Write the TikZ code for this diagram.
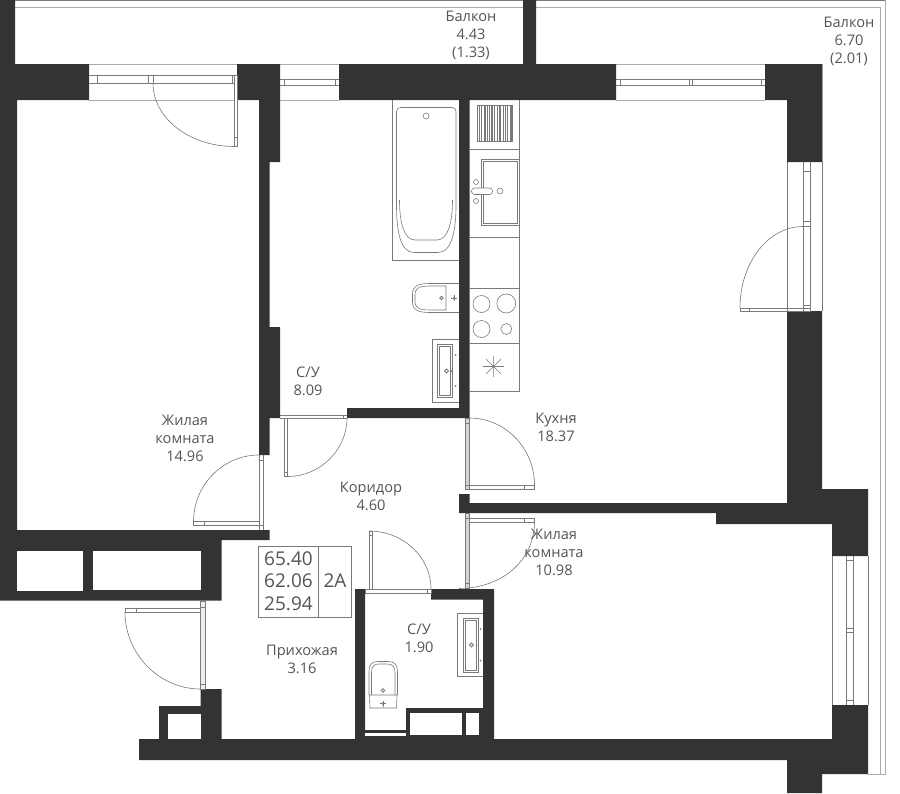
\documentclass[tikz,border=0pt]{standalone}
\usepackage{fontspec}
\setmainfont{Open Sans}
\definecolor{wallc}{HTML}{333333}
\definecolor{linec}{HTML}{7A7A7A}
\definecolor{lightc}{HTML}{ABABAB}
\definecolor{textc}{HTML}{555555}
\definecolor{framec}{HTML}{D4D4D4}
\tikzset{
  wallshape/.style={fill=wallc,draw=none},
  thin line/.style={draw=linec,line width=0.6pt},
  pale line/.style={draw=lightc,line width=0.9pt},
  fixture/.style={draw=linec,line width=0.6pt,fill=white},
  roomlabel/.style={align=center,text=textc,inner sep=0pt,font=\fontsize{14.6}{18}\selectfont},
  boxlabel/.style={text=textc,inner sep=0pt,font=\fontsize{19}{22}\selectfont},
}
\begin{document}
\begin{tikzpicture}[x=1pt,y=-1pt]
\useasboundingbox (0,0) rectangle (900,793);
\fill[white] (0,0) rectangle (900,793);

% balcony railing
\draw[pale line] (15,7) -- (523,7);
\draw[draw=linec,line width=1pt] (15,0.5) -- (523,0.5);
\draw[pale line] (536,7) -- (880,7) -- (880,774);
\draw[draw=linec,line width=1pt] (536,0.5) -- (885.5,0.5);
\draw[pale line] (885.5,0) -- (885.5,774) -- (868,774);
\draw[pale line] (15,64) -- (523,64);
\draw[pale line] (536,64) -- (822,64) -- (822,162);

% walls
\fill[wallshape] (0,0) -- (15,0) -- (15,64) -- (89,64) -- (89,100) -- (17,100) -- (17,530)
  -- (269.5,530) -- (269.5,540) -- (221.5,540) -- (221.5,600.5) -- (200.5,600.5) -- (0,600.5) -- cycle;
\fill[wallshape] (237,64) -- (280,64) -- (280,162) -- (269.5,162) -- (269.5,327) -- (280,327) -- (280,418)
  -- (269.5,418) -- (269.5,455) -- (259,455) -- (259,100) -- (237,100) -- cycle;
\fill[wallshape] (339,64) -- (523,64) -- (523,0) -- (536,0) -- (536,64) -- (616,64) -- (616,100)
  -- (469.5,100) -- (469.5,418) -- (347,418) -- (347,408) -- (459,408) -- (459,100) -- (339,100) -- cycle;
\fill[wallshape] (765,64) -- (822,64) -- (822,162) -- (787,162) -- (787,100) -- (765,100) -- cycle;
\fill[wallshape] (787,311) -- (822,311) -- (822,489) -- (868,489) -- (868,556) -- (832,556) -- (832,524)
  -- (716,524) -- (716,513) -- (469.5,513) -- (459,513) -- (459,494) -- (469.5,494) -- (469.5,503) -- (787,503) -- cycle;
\fill[wallshape] (832,705) -- (868,705) -- (868,774) -- (822,774) -- (822,793) -- (787,793) -- (787,760)
  -- (139,760) -- (139,739) -- (159,739) -- (159,706) -- (200.5,706) -- (200.5,689) -- (221.5,689) -- (221.5,739)
  -- (355,739) -- (355,589) -- (365,589) -- (365,739) -- (483,739) -- (483,599.5) -- (431,599.5) -- (431,589)
  -- (494,589) -- (494,739) -- (832,739) -- cycle;
\fill[white] (168,714) rectangle (200.5,739);
\fill[wallshape] (406,708) rectangle (483,739);
\fill[wallshape] (365,730) rectangle (406,739);
\fill[white] (17,551) rectangle (83,591);
\fill[white] (93,551) rectangle (200.5,590);
\fill[white] (410,713) rectangle (462,735);
\fill[white] (466,713) rectangle (479,735);
\fill[white] (365,732.5) rectangle (406,735.5);

% window 1 with door
\draw[pale line] (89,64) -- (237,64) (89,100) -- (237,100);
\draw[thin line] (89,75.5) -- (237,75.5) (89,83) -- (153,83) (153,83) -- (237,83);
\draw[thin line] (97.5,75.5) -- (97.5,83) (148,75.5) -- (148,83) (153,75.5) -- (153,83) (232,75.5) -- (232,83);
\draw[fixture] (234.5,75.5) rectangle (237.5,146.5);
\draw[thin line] (234.5,137) -- (237.5,137);
\draw[thin line] (153,83) .. controls (153,118) and (189,146.5) .. (234.5,146.5);

% window 2
\draw[pale line] (280,64) -- (339,64) (280,100) -- (339,100);
\draw[thin line] (280,79) -- (339,79) (280,85.5) -- (339,85.5) (284.5,79) -- (284.5,85.5) (335,79) -- (335,85.5);

% window 3
\draw[pale line] (616,64) -- (765,64) (616,100) -- (765,100);
\draw[thin line] (616,79) -- (765,79) (616,85.5) -- (765,85.5);
\draw[thin line] (620.5,79) -- (620.5,85.5) (689,79) -- (689,85.5) (692.5,79) -- (692.5,85.5) (761.5,79) -- (761.5,85.5);

% balcony door, kitchen
\draw[thin line] (787,162) -- (787,311) (822,162) -- (822,311);
\draw[thin line] (803,162) -- (803,311) (810.5,162) -- (810.5,311);
\draw[thin line] (803,171) -- (810.5,171) (803,221) -- (810.5,221) (803,226.5) -- (810.5,226.5) (803,305) -- (810.5,305);
\draw[thin line] (740,308) rectangle (810.5,311);
\draw[thin line] (749,308) -- (749,311);
\draw[thin line] (740,308) .. controls (740,263) and (768,226.5) .. (803,226.5);

% window, bedroom 2
\draw[thin line] (832,556) -- (832,705);
\draw[thin line] (868,556) -- (868,705);
\draw[thin line] (846.5,556) -- (846.5,705) (853.5,556) -- (853.5,705);
\draw[thin line] (846.5,560) -- (853.5,560) (846.5,628) -- (853.5,628) (846.5,632) -- (853.5,632) (846.5,700.5) -- (853.5,700.5);

% bath door
\draw[thin line] (280,415) -- (347,415) (280,418) -- (347,418);
\draw[thin line] (284,418) -- (284,476.5) -- (287.5,476.5) -- (287.5,418) (284,472) -- (287.5,472);
\draw[thin line] (343,415) -- (343,418);
\draw[thin line] (287.5,476.5) .. controls (320,476.5) and (347,450) .. (347,418);

% living room door
\draw[thin line] (259.5,455) -- (259.5,530) (263.5,455) -- (263.5,530) (259.5,460) -- (263.5,460) (259.5,525.5) -- (263.5,525.5);
\draw[thin line] (193.5,521.5) rectangle (259.5,525.5) (204,521.5) -- (204,525.5);
\draw[thin line] (193.5,521.5) .. controls (193.5,485) and (223,455) .. (259,455);

% entrance door
\draw[thin line,fill=framec!40] (200.5,601) rectangle (205.5,689);
\draw[thin line] (200.5,607) -- (205.5,607) (200.5,684) -- (205.5,684);
\draw[thin line] (125,608) rectangle (200.5,612) (136,608) -- (136,612);
\draw[thin line] (125,612) .. controls (125,654) and (159,689) .. (200.5,689);

% kitchen door
\draw[thin line,fill=framec] (465,418) rectangle (469.5,489);
\draw[thin line] (465,423) -- (469.5,423) (465,485) -- (469.5,485);
\draw[thin line] (469.5,485) rectangle (534.5,489) (524,485) -- (524,489);
\draw[thin line] (534.5,485) .. controls (534.5,448) and (505,418) .. (469.5,418);

% bedroom 2 door
\draw[thin line,fill=framec] (465,513) rectangle (469.5,588);
\draw[thin line] (465,518) -- (469.5,518) (465,583) -- (469.5,583);
\draw[thin line] (469.5,518) rectangle (534.5,522) (524,518) -- (524,522);
\draw[thin line] (534.5,522) .. controls (534.5,558) and (505,588) .. (459,588.5);

% second bathroom door
\draw[thin line] (365,589.5) rectangle (431,593);
\draw[thin line] (369,531) rectangle (372.5,589.5);
\draw[thin line] (369,535) -- (372.5,535) (427,589.5) -- (427,593);
\draw[thin line] (431,589) .. controls (431,557) and (403,531) .. (369,531);

% bath
\draw[thin line] (392.5,100) -- (392.5,260) -- (459,260);
\draw[thin line] (400.5,107.5) -- (452,107.5) .. controls (454.5,107.5) and (456,109) .. (456,111.5)
  -- (456,205) .. controls (456,230) and (452,252.5) .. (438,252.5) -- (414,252.5)
  .. controls (400,252.5) and (396.5,230) .. (396.5,205) -- (396.5,111.5) .. controls (396.5,109) and (398,107.5) .. (400.5,107.5) -- cycle;
\draw[thin line] (399.5,200) .. controls (399.5,222) and (404,240) .. (415,240) -- (437,240)
  .. controls (448,240) and (452.5,222) .. (452.5,200);
\draw[thin line] (426,116) circle (3);

% toilet 1
\draw[thin line] (459,283.5) -- (430,283.5) .. controls (418,283.5) and (412.5,286) .. (412.5,294) -- (412.5,302)
  .. controls (412.5,310) and (418,312.5) .. (430,312.5) -- (459,312.5);
\draw[thin line] (446,286) -- (430,286) .. controls (419,286) and (415,288) .. (415,295) -- (415,301)
  .. controls (415,308) and (419,310) .. (430,310) -- (446,310) -- cycle;
\draw[draw=linec,line width=0.9pt] (441.5,298) circle (1.8);
\fill[linec] (454,298) circle (1.5);
\draw[thin line] (451,298) -- (457,298) (454,295) -- (454,301);

% sink 1
\draw[thin line] (459,339) -- (432.5,339) -- (432.5,402.5) -- (459,402.5);
\draw[thin line] (437.5,344.5) rectangle (452,397);
\draw[thin line] (439.5,346.5) rectangle (450,395);
\draw[draw=linec,line width=0.9pt] (446.5,371) circle (1.9);
\fill[linec] (451.5,371) circle (1) (455.7,355) circle (1) (455.7,386) circle (1);

% kitchen counter
\draw[thin line] (519,100) -- (519,391) -- (469.5,391);
\draw[thin line] (469.5,149.5) -- (519,149.5) (469.5,237) -- (519,237) (469.5,288) -- (519,288) (469.5,343) -- (519,343);
\draw[thin line] (477.5,105) rectangle (512.5,141.5);
\foreach \hx in {479.5,481,484,485,487,489,491,492,494,497,499,500,503,505,507,510,511}{
  \draw[draw=linec,line width=0.5pt] (\hx,105) -- (\hx,141.5);
}
\draw[thin line] (519,159.5) -- (481.5,159.5) -- (481.5,225.5) -- (519,225.5);
\draw[thin line] (517.5,161.5) rectangle (483.5,223.5);
\draw[fixture,rounded corners=3pt] (471.5,188) rectangle (492.5,194.5);
\draw[thin line] (476,182) circle (2.5) (476,201) circle (2.5) (500,191) circle (3);
\draw[thin line] (481.5,304) circle (8.5) (506.3,303.5) circle (9.5) (481.5,329) circle (8.5) (506.3,329) circle (5.5);
\draw[thin line] (483,366.5) -- (504,366.5) (493.3,356) -- (493.3,377) (486,359) -- (501,374) (486,374) -- (501,359);
\fill[linec] (493.3,366.5) circle (1.2);

% toilet 2
\draw[thin line] (369,695) -- (369,672) .. controls (369,664) and (372,661.5) .. (378,661.5) -- (388,661.5)
  .. controls (394,661.5) and (397.5,664) .. (397.5,672) -- (397.5,695);
\draw[thin line] (371.5,695) -- (371.5,673) .. controls (371.5,666) and (374,664) .. (379,664) -- (387,664)
  .. controls (392,664) and (395,666) .. (395,673) -- (395,695);
\draw[thin line] (369.5,695) -- (397,695) -- (396.5,708) -- (370,708) -- cycle;
\draw[draw=linec,line width=0.9pt] (383,690.5) circle (1.8);
\fill[linec] (383,703.5) circle (1.5);
\draw[thin line] (380,703.5) -- (386,703.5) (383,700.5) -- (383,706.5);

% sink 2
\draw[thin line] (483,613.5) -- (457.5,613.5) -- (457.5,676.5) -- (483,676.5);
\draw[thin line] (463,618.5) rectangle (478,672);
\draw[thin line] (465,620.5) rectangle (476,670);
\draw[draw=linec,line width=0.9pt] (471.5,645) circle (1.9);
\fill[linec] (476.5,645) circle (1) (480.5,629) circle (1) (480.5,660.5) circle (1);

% info box
\draw[draw=linec,line width=0.6pt] (258.5,546.5) rectangle (351,617.5) (318.5,546.5) -- (318.5,617.5);
\node[boxlabel] (areaA) at (288.5,559) {65.40};
\node[boxlabel] (areaB) at (288.5,581) {62.06};
\node[boxlabel] (areaC) at (288.5,604) {25.94};
\node[boxlabel] (flat) at (335,581) {2А};

% labels
\node[roomlabel] (balconyA) at (471,35) {Балкон\\4.43\\(1.33)};
\node[roomlabel] (balconyB) at (849,41) {Балкон\\6.70\\(2.01)};
\node[roomlabel] (living) at (185,438) {Жилая\\комната\\14.96};
\node[roomlabel] (bathA) at (308,381.5) {С/У\\8.09};
\node[roomlabel] (kitchen) at (556,427) {Кухня\\18.37};
\node[roomlabel] (hall) at (371,496) {Коридор\\4.60};
\node[roomlabel] (bedroom) at (554,552) {Жилая\\комната\\10.98};
\node[roomlabel] (entry) at (302,659) {Прихожая\\3.16};
\node[roomlabel] (bathB) at (419,638) {С/У\\1.90};
\end{tikzpicture}
\end{document}
